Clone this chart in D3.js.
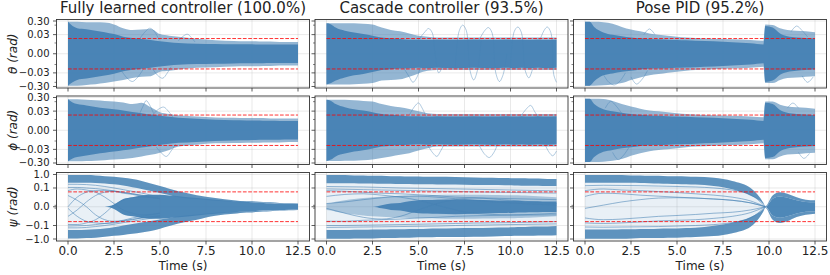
<!DOCTYPE html>
<html>
<head>
<meta charset="utf-8">
<script src="https://cdn.jsdelivr.net/npm/d3@7"></script>
<style>
  body { margin: 0; background: #fff; }
  text { font-family: "DejaVu Sans", sans-serif; fill: #222; }
</style>
</head>
<body>
<div class="chart"></div>
<script>
// time grid used by all envelope arrays (s)
const TIME = [0, 0.25, 0.5, 1, 1.5, 2, 2.5, 3, 3.5, 4, 4.5, 5, 5.5, 6, 7, 8, 9, 9.7, 9.8, 10.2, 10.6, 11, 11.5, 12, 12.5];

const titles = ["Fully learned controller (100.0%)", "Cascade controller (93.5%)", "Pose PID (95.2%)"];
const rowLabels = ["\u03b8 (rad)", "\u03d5 (rad)", "\u03c8 (rad)"];
const xTicks = [0, 2.5, 5, 7.5, 10, 12.5];
const angTicks = [-0.3, -0.03, 0, 0.03, 0.3];
const angTickLabels = ["\u22120.30", "\u22120.03", "0.00", "0.03", "0.30"];
const angMinor = [-0.15, -0.0065, 0.0065, 0.15];
const yawTicks = [-1, -0.1, 0, 0.1, 1];
const yawTickLabels = ["\u22121.0", "\u22120.1", "0.0", "0.1", "1.0"];
const yawMinor = [-0.0012, 0.0012];
const angLimit = 0.015;   // red dashed bounds, roll/pitch
const yawLimit = 0.05;    // red dashed bounds, yaw

// ---- theta, fully learned
const thLearnOutHi = [0.26,0.26,0.26,0.24,0.24,0.23,0.17,0.09,0.066,0.072,0.08,0.033,0.025,0.021,0.0146,0.011,0.0096,0.009,0.009,0.009,0.0085,0.0085,0.008,0.008,0.008];
const thLearnOutLo = [-0.26,-0.26,-0.26,-0.23,-0.205,-0.17,-0.13,-0.10,-0.072,-0.058,-0.053,-0.025,-0.021,-0.0165,-0.0122,-0.0108,-0.0096,-0.009,-0.009,-0.009,-0.0085,-0.0085,-0.008,-0.008,-0.008];
const thLearnCoreHi = [0.26,0.13,0.09,0.076,0.058,0.046,0.033,0.021,0.0165,0.014,0.0115,0.009,0.0075,0.0065,0.0057,0.0054,0.005,0.005,0.005,0.0048,0.0048,0.0047,0.0047,0.0047,0.0047];
const thLearnCoreLo = [-0.26,-0.15,-0.1,-0.08,-0.062,-0.048,-0.035,-0.023,-0.0175,-0.0146,-0.012,-0.0095,-0.0078,-0.0068,-0.006,-0.0056,-0.0052,-0.005,-0.005,-0.005,-0.0049,-0.0048,-0.0048,-0.0047,-0.0047];
const thLearnSwings = [
  [[3.9, 0.015], [4.2, 0.05], [4.45, 0.09], [4.7, 0.05], [4.95, 0.012]],
  [[2.9, -0.02], [3.2, -0.07], [3.5, -0.13], [3.8, -0.06], [4.1, -0.015]],
  [[4.6, -0.015], [4.9, -0.05], [5.15, -0.075], [5.4, -0.03], [5.6, -0.01]],
  [[6.0, 0.01], [6.3, 0.025], [6.5, 0.032], [6.7, 0.018], [6.9, 0.008]]
];
// ---- theta, cascade
const thCascOutHi = [0.205,0.205,0.205,0.205,0.205,0.19,0.17,0.10,0.066,0.053,0.037,0.025,0.021,0.0185,0.0185,0.0185,0.0185,0.0185,0.0185,0.0185,0.0185,0.0185,0.0185,0.0185,0.0185];
const thCascOutLo = [-0.215,-0.215,-0.215,-0.215,-0.205,-0.19,-0.17,-0.112,-0.10,-0.09,-0.058,-0.033,-0.021,-0.0185,-0.0185,-0.0185,-0.0185,-0.0185,-0.0185,-0.0185,-0.0185,-0.0185,-0.0185,-0.0185,-0.0185];
const thCascCoreHi = [0.205,0.17,0.10,0.058,0.044,0.033,0.025,0.0185,0.0155,0.014,0.0122,0.0122,0.0115,0.0122,0.0115,0.0122,0.0115,0.0122,0.0122,0.0115,0.0122,0.0115,0.0122,0.0115,0.0122];
const thCascCoreLo = [-0.215,-0.17,-0.112,-0.066,-0.046,-0.037,-0.026,-0.0185,-0.0155,-0.014,-0.013,-0.0122,-0.013,-0.0122,-0.013,-0.0122,-0.013,-0.0122,-0.0122,-0.013,-0.0122,-0.013,-0.0122,-0.013,-0.0122];
const thCascSwings = [
  [[4.2, -0.013], [4.5, -0.06], [4.7, -0.15], [4.9, -0.07], [5.1, -0.012]],
  [[5.0, 0.012], [5.3, 0.04], [5.55, 0.085], [5.75, 0.04], [5.9, 0.0], [6.1, -0.03], [6.3, -0.01]],
  [[7.0, -0.01], [7.2, 0.05], [7.4, 0.15], [7.6, 0.06], [7.8, -0.02], [8.0, -0.1], [8.2, -0.02], [8.4, 0.01]],
  [[8.3, 0.012], [8.6, 0.06], [8.8, 0.1], [9.0, 0.04], [9.2, -0.03], [9.4, -0.13], [9.6, -0.04], [9.8, 0.0]],
  [[10.0, -0.012], [10.2, 0.05], [10.4, 0.11], [10.6, 0.04], [10.8, -0.02], [11.0, -0.07], [11.2, -0.015]],
  [[11.6, 0.012], [11.85, 0.07], [12.0, 0.11], [12.2, 0.04], [12.35, -0.04], [12.5, -0.15]]
];
// ---- theta, pose PID
const thPidOutHi = [0.26,0.26,0.26,0.24,0.19,0.112,0.072,0.053,0.037,0.029,0.025,0.021,0.0185,0.0165,0.0146,0.013,0.0115,0.010,0.17,0.155,0.09,0.066,0.058,0.053,0.046];
const thPidOutLo = [-0.26,-0.26,-0.26,-0.24,-0.215,-0.17,-0.10,-0.066,-0.046,-0.037,-0.029,-0.025,-0.021,-0.0185,-0.0155,-0.014,-0.0122,-0.010,-0.17,-0.17,-0.10,-0.072,-0.066,-0.058,-0.053];
const thPidCoreHi = [0.26,0.26,0.112,0.044,0.029,0.023,0.0185,0.0155,0.014,0.013,0.0122,0.0115,0.0108,0.010,0.009,0.0075,0.0061,0.0047,0.132,0.10,0.037,0.023,0.0185,0.0165,0.0146];
const thPidCoreLo = [-0.26,-0.26,-0.125,-0.046,-0.033,-0.025,-0.021,-0.0165,-0.0146,-0.014,-0.013,-0.0122,-0.0115,-0.0108,-0.0096,-0.008,-0.0065,-0.005,-0.14,-0.112,-0.041,-0.026,-0.021,-0.0185,-0.0165];
const thPidSwings = [
  [[1.0, -0.04], [1.3, -0.15], [1.6, -0.23], [1.9, -0.12], [2.2, -0.03]],
  [[2.5, -0.06], [2.8, -0.2], [3.1, -0.09], [3.4, -0.02]],
  [[3.2, 0.03], [3.5, 0.08], [3.8, 0.03]],
  [[11.2, 0.05], [11.5, 0.13], [11.8, 0.06], [12.1, 0.02]],
  [[11.8, -0.05], [12.1, -0.15], [12.4, -0.06]]
];
// ---- phi, fully learned
const phLearnOutHi = [0.228,0.228,0.228,0.205,0.19,0.17,0.155,0.132,0.10,0.125,0.058,0.025,0.0185,0.0146,0.0115,0.0096,0.009,0.0085,0.0085,0.0085,0.0085,0.008,0.008,0.008,0.008];
const phLearnOutLo = [-0.228,-0.228,-0.228,-0.215,-0.205,-0.19,-0.17,-0.155,-0.132,-0.10,-0.076,-0.053,-0.033,-0.0185,-0.013,-0.0102,-0.0096,-0.009,-0.009,-0.009,-0.0085,-0.0085,-0.0085,-0.008,-0.008];
const phLearnCoreHi = [0.228,0.132,0.1,0.08,0.062,0.05,0.041,0.033,0.026,0.021,0.0165,0.0135,0.0108,0.009,0.0075,0.0062,0.0056,0.0054,0.0054,0.0052,0.005,0.005,0.0048,0.0048,0.0048];
const phLearnCoreLo = [-0.228,-0.14,-0.11,-0.085,-0.066,-0.053,-0.044,-0.035,-0.028,-0.022,-0.0175,-0.014,-0.0112,-0.0093,-0.0078,-0.0064,-0.0058,-0.0055,-0.0055,-0.0053,-0.0051,-0.005,-0.0049,-0.0048,-0.0048];
const phLearnSwings = [
  [[3.9, 0.02], [4.1, 0.08], [4.25, 0.18], [4.45, 0.08], [4.65, 0.02]],
  [[4.6, 0.015], [4.9, 0.04], [5.2, 0.06], [5.45, 0.03], [5.7, 0.01]],
  [[4.8, -0.02], [5.1, -0.06], [5.35, -0.1], [5.6, -0.04], [5.85, -0.012]]
];
// ---- phi, cascade
const phCascOutHi = [0.205,0.205,0.205,0.205,0.19,0.17,0.155,0.10,0.072,0.058,0.044,0.029,0.021,0.0185,0.0185,0.0185,0.0185,0.0185,0.0185,0.0185,0.0185,0.0185,0.0185,0.0185,0.0185];
const phCascOutLo = [-0.215,-0.215,-0.215,-0.205,-0.205,-0.19,-0.17,-0.13,-0.10,-0.076,-0.058,-0.037,-0.025,-0.0185,-0.0185,-0.0185,-0.0185,-0.0185,-0.0185,-0.0185,-0.0185,-0.0185,-0.0185,-0.0185,-0.0185];
const phCascCoreHi = [0.205,0.17,0.10,0.058,0.041,0.033,0.025,0.0185,0.0155,0.014,0.0122,0.0122,0.0115,0.0122,0.0115,0.0122,0.0115,0.0122,0.0122,0.0115,0.0122,0.0115,0.0122,0.0115,0.0122];
const phCascCoreLo = [-0.215,-0.17,-0.10,-0.062,-0.044,-0.035,-0.026,-0.0185,-0.0155,-0.014,-0.013,-0.0122,-0.013,-0.0122,-0.013,-0.0122,-0.013,-0.0122,-0.0122,-0.013,-0.0122,-0.013,-0.0122,-0.013,-0.0122];
const phCascSwings = [
  [[4.5, 0.015], [4.8, 0.07], [5.0, 0.12], [5.2, 0.05], [5.4, 0.012]],
  [[5.5, -0.015], [5.8, -0.06], [6.0, -0.1], [6.2, -0.04], [6.4, -0.012]],
  [[8.3, -0.015], [8.6, -0.07], [8.85, -0.12], [9.1, -0.05], [9.3, -0.012]],
  [[10.6, 0.015], [10.9, 0.05], [11.1, 0.08], [11.3, 0.03], [11.5, 0.01]],
  [[11.9, -0.015], [12.1, -0.05], [12.3, -0.09], [12.5, -0.04]]
];
// ---- phi, pose PID
const phPidOutHi = [0.24,0.24,0.24,0.23,0.17,0.10,0.066,0.046,0.033,0.029,0.025,0.021,0.0185,0.0165,0.0146,0.013,0.0115,0.010,0.155,0.155,0.09,0.066,0.058,0.053,0.046];
const phPidOutLo = [-0.25,-0.25,-0.25,-0.24,-0.205,-0.155,-0.09,-0.058,-0.041,-0.033,-0.029,-0.025,-0.021,-0.0185,-0.0155,-0.014,-0.0122,-0.010,-0.16,-0.16,-0.10,-0.072,-0.066,-0.058,-0.053];
const phPidCoreHi = [0.24,0.24,0.10,0.041,0.029,0.023,0.0185,0.0155,0.014,0.013,0.0122,0.0115,0.0108,0.010,0.009,0.0075,0.0061,0.0047,0.125,0.10,0.037,0.023,0.0185,0.0165,0.0146];
const phPidCoreLo = [-0.25,-0.25,-0.112,-0.046,-0.033,-0.025,-0.021,-0.0165,-0.0146,-0.014,-0.013,-0.0122,-0.0115,-0.0108,-0.0096,-0.008,-0.0065,-0.005,-0.13,-0.112,-0.041,-0.026,-0.021,-0.0185,-0.0165];
const phPidSwings = [
  [[1.1, 0.05], [1.4, 0.16], [1.7, 0.07], [2.0, 0.02]],
  [[1.5, -0.05], [1.8, -0.17], [2.1, -0.08], [2.4, -0.02]],
  [[11.0, 0.05], [11.3, 0.12], [11.6, 0.05]],
  [[11.6, -0.05], [11.9, -0.14], [12.2, -0.06]]
];

// ---- psi, fully learned
const psLearnFanHi = [0.9,0.9,0.9,0.9,0.85,0.76,0.68,0.58,0.47,0.34,0.216,0.139,0.088,0.056,0.027,0.0149,0.0088,0.0068,0.0068,0.0062,0.0056,0.0051,0.0041,0.0037,0.0032];
const psLearnTopIn = [0.25,0.25,0.25,0.25,0.24,0.22,0.19,0.155,0.115,0.085,0.058,0.04,0.028,0.018,0.012,0.008,0.006,0.005,0.005,0.0047,0.0043,0.0039,0.0034,0.003,0.0027];
const psLearnBotIn = [-0.22,-0.22,-0.22,-0.21,-0.19,-0.165,-0.135,-0.1,-0.077,-0.058,-0.044,-0.034,-0.025,-0.018,-0.012,-0.008,-0.006,-0.005,-0.005,-0.0047,-0.0043,-0.0039,-0.0034,-0.003,-0.0027];
const psLearnFanLo = [-0.9,-0.9,-0.9,-0.85,-0.8,-0.68,-0.58,-0.5,-0.42,-0.34,-0.26,-0.173,-0.11,-0.07,-0.035,-0.016,-0.0103,-0.0074,-0.0074,-0.0062,-0.0056,-0.0051,-0.0041,-0.0037,-0.0032];
const psLearnCoreHi = [0,0,0,0,0,0,0.002,0.012,0.018,0.025,0.029,0.029,0.025,0.022,0.0149,0.0103,0.0068,0.0056,0.0056,0.0046,0.0041,0.0037,0.0032,0.0028,0.0026];
const psLearnCoreLo = [0,0,0,0,0,0,-0.002,-0.012,-0.018,-0.025,-0.029,-0.029,-0.025,-0.022,-0.0149,-0.0103,-0.0068,-0.0056,-0.0056,-0.0046,-0.0041,-0.0037,-0.0032,-0.0028,-0.0026];
const psLearnLineT = [0, 0.5, 1, 1.5, 2, 2.5, 3, 3.5, 4, 5];
const psLearnLines = [
  [0.025, 0.0088, 0, -0.013, -0.035, -0.047, -0.039, -0.025, -0.018, -0.0088],
  [-0.018, -0.0032, 0.0056, 0.025, 0.047, 0.056, 0.047, 0.035, 0.025, 0.013],
  [0, 0.018, 0.047, 0.063, 0.063, 0.056, 0.039, 0.031, 0.022, 0.013],
  [-0.0014, -0.018, -0.047, -0.063, -0.07, -0.063, -0.047, -0.035, -0.025, -0.018],
  [0.063, 0.084, 0.07, 0.047, 0.018, 0.0032, -0.0032, -0.0088, -0.013, -0.0088],
  [-0.084, -0.084, -0.063, -0.035, -0.0088, 0.0014, 0.0088, 0.016, 0.018, 0.013],
  [0.19, 0.19, 0.18, 0.16, 0.13, 0.1, 0.075, 0.055, 0.04, 0.018],
  [0.11, 0.11, 0.1, 0.09, 0.075, 0.06, 0.045, 0.035, 0.027, 0.013],
  [-0.15, -0.15, -0.14, -0.12, -0.1, -0.08, -0.06, -0.047, -0.035, -0.02],
  [-0.11, -0.105, -0.1, -0.085, -0.07, -0.055, -0.042, -0.032, -0.025, -0.015]
];
// ---- psi, cascade
const psCascFanHi = [0.9,0.9,0.9,0.9,0.85,0.85,0.8,0.8,0.76,0.76,0.72,0.72,0.68,0.68,0.65,0.615,0.58,0.55,0.55,0.52,0.52,0.5,0.5,0.47,0.47];
const psCascTopIn = [0.23,0.23,0.23,0.23,0.23,0.22,0.22,0.21,0.21,0.2,0.2,0.19,0.19,0.185,0.18,0.17,0.165,0.16,0.16,0.155,0.15,0.15,0.145,0.14,0.14];
const psCascBotIn = [-0.22,-0.22,-0.22,-0.22,-0.21,-0.21,-0.2,-0.2,-0.19,-0.19,-0.18,-0.18,-0.173,-0.17,-0.16,-0.155,-0.147,-0.14,-0.14,-0.135,-0.13,-0.124,-0.12,-0.117,-0.11];
const psCascFanLo = [-0.95,-0.95,-0.95,-0.95,-0.9,-0.9,-0.9,-0.85,-0.85,-0.8,-0.8,-0.76,-0.76,-0.72,-0.72,-0.68,-0.65,-0.615,-0.615,-0.58,-0.58,-0.58,-0.55,-0.55,-0.52];
const psCascMidHi = [0.0032,0.004,0.006,0.009,0.012,0.015,0.018,0.02,0.022,0.024,0.025,0.026,0.027,0.028,0.029,0.029,0.028,0.027,0.027,0.026,0.025,0.024,0.022,0.02,0.018];
const psCascMidLo = [-0.0032,-0.004,-0.006,-0.009,-0.012,-0.015,-0.018,-0.02,-0.022,-0.024,-0.025,-0.026,-0.027,-0.028,-0.029,-0.029,-0.028,-0.027,-0.027,-0.026,-0.025,-0.024,-0.022,-0.02,-0.018];
const psCascCoreHi = [0,0,0,0,0,0,0,0.0014,0.0032,0.0041,0.0068,0.0088,0.0095,0.0103,0.011,0.0103,0.0088,0.0082,0.0082,0.0076,0.0074,0.0068,0.0066,0.0062,0.0062];
const psCascCoreLo = [0,0,0,0,0,0,0,-0.0014,-0.0032,-0.0041,-0.0068,-0.0088,-0.0095,-0.0103,-0.011,-0.0103,-0.0088,-0.0082,-0.0082,-0.0076,-0.0074,-0.0068,-0.0066,-0.0062,-0.0062];
const psCascLineT = [0, 1, 2, 3, 4, 5, 6, 7, 8, 10, 12.5];
const psCascLines = [
  [-0.0014, -0.0088, -0.022, -0.031, -0.018, -0.0032, 0.0032, 0.0103, 0.0149, 0.0088, 0.0032],
  [0.021, 0.031, 0.035, 0.027, 0.018, 0.0088, 0.0014, -0.0032, -0.0088, -0.013, -0.0088],
  [0.063, 0.056, 0.047, 0.039, 0.035, 0.029, 0.024, 0.018, 0.016, 0.013, 0.0103],
  [-0.047, -0.047, -0.039, -0.035, -0.031, -0.025, -0.022, -0.018, -0.016, -0.0139, -0.013],
  [0.0032, 0.0056, 0.0103, 0.016, 0.021, 0.022, 0.018, 0.013, 0.0088, 0.0041, 0.0014],
  [0.13, 0.125, 0.12, 0.11, 0.1, 0.095, 0.09, 0.085, 0.08, 0.07, 0.06],
  [0.085, 0.08, 0.075, 0.07, 0.066, 0.062, 0.058, 0.054, 0.05, 0.045, 0.04],
  [-0.1, -0.1, -0.095, -0.09, -0.085, -0.08, -0.075, -0.07, -0.065, -0.06, -0.05],
  [-0.14, -0.135, -0.13, -0.125, -0.12, -0.115, -0.11, -0.1, -0.095, -0.085, -0.075]
];
// ---- psi, pose PID
const psPidFanHi = [0.9,0.9,0.9,0.9,0.9,0.9,0.85,0.85,0.8,0.8,0.76,0.76,0.72,0.68,0.58,0.34,0.099,0.0041,0.0005,0.025,0.047,0.035,0.018,0.0103,0.0088];
const psPidTopIn = [0.25,0.25,0.25,0.25,0.25,0.25,0.245,0.24,0.23,0.22,0.21,0.2,0.19,0.18,0.14,0.08,0.024,0.0025,0.0003,0.013,0.021,0.016,0.0088,0.0056,0.0051];
const psPidBotIn = [-0.2,-0.2,-0.2,-0.2,-0.2,-0.19,-0.19,-0.18,-0.18,-0.173,-0.17,-0.165,-0.155,-0.147,-0.105,-0.06,-0.021,-0.002,-0.0003,-0.015,-0.024,-0.018,-0.0095,-0.006,-0.0055];
const psPidFanLo = [-0.95,-0.95,-0.95,-0.95,-0.95,-0.95,-0.9,-0.85,-0.85,-0.85,-0.8,-0.8,-0.76,-0.72,-0.615,-0.375,-0.124,-0.0051,-0.0008,-0.035,-0.063,-0.047,-0.021,-0.013,-0.0103];
const psPidCoreHi = [0,0,0,0,0,0,0,0,0,0,0,0,0,0,0,0,0,0,0,0.013,0.021,0.016,0.0088,0.0056,0.0051];
const psPidCoreLo = [0,0,0,0,0,0,0,0,0,0,0,0,0,0,0,0,0,0,0,-0.015,-0.024,-0.018,-0.0095,-0.006,-0.0055];
const psPidLineT = [0, 1, 2, 3, 4, 5, 6, 7, 8, 9, 9.8];
const psPidLines = [
  [0.021, 0.039, 0.035, 0.027, 0.022, 0.018, 0.0149, 0.012, 0.0088, 0.0041, 0],
  [-0.0014, 0.0014, 0.0056, 0.0103, 0.0149, 0.016, 0.0149, 0.012, 0.0088, 0.0041, 0],
  [0.063, 0.084, 0.07, 0.063, 0.053, 0.044, 0.035, 0.027, 0.018, 0.0074, 0],
  [-0.025, -0.035, -0.031, -0.024, -0.018, -0.015, -0.012, -0.0088, -0.0068, -0.0032, 0],
  [-0.063, -0.07, -0.063, -0.053, -0.044, -0.039, -0.035, -0.027, -0.018, -0.0074, 0],
  [0.15, 0.16, 0.155, 0.15, 0.14, 0.13, 0.12, 0.1, 0.07, 0.03, 0],
  [-0.13, -0.135, -0.13, -0.125, -0.12, -0.11, -0.1, -0.085, -0.06, -0.025, 0]
];

// ---- layout
const W = 830, H = 275;
const colX = [56.5, 315, 573.5], rowY = [19.5, 96, 172.5];
const pw = 253, ph = 68.5;
const blue = "steelblue";
const OUT = 0.58, CORE = 0.95, STRIP = 0.85, FAN = 0.12;

const panels = [
  {r: 0, c: 0, bands: [[thLearnOutLo, thLearnOutHi, OUT], [thLearnCoreLo, thLearnCoreHi, CORE]], swings: thLearnSwings},
  {r: 0, c: 1, bands: [[thCascOutLo, thCascOutHi, OUT], [thCascCoreLo, thCascCoreHi, CORE]], swings: thCascSwings},
  {r: 0, c: 2, bands: [[thPidOutLo, thPidOutHi, OUT], [thPidCoreLo, thPidCoreHi, CORE]], swings: thPidSwings},
  {r: 1, c: 0, bands: [[phLearnOutLo, phLearnOutHi, OUT], [phLearnCoreLo, phLearnCoreHi, CORE]], swings: phLearnSwings},
  {r: 1, c: 1, bands: [[phCascOutLo, phCascOutHi, OUT], [phCascCoreLo, phCascCoreHi, CORE]], swings: phCascSwings},
  {r: 1, c: 2, bands: [[phPidOutLo, phPidOutHi, OUT], [phPidCoreLo, phPidCoreHi, CORE]], swings: phPidSwings},
  {r: 2, c: 0, bands: [[psLearnFanLo, psLearnFanHi, FAN], [psLearnTopIn, psLearnFanHi, STRIP], [psLearnFanLo, psLearnBotIn, STRIP], [psLearnCoreLo, psLearnCoreHi, CORE]],
   lineT: psLearnLineT, lines: psLearnLines},
  {r: 2, c: 1, bands: [[psCascFanLo, psCascFanHi, FAN], [psCascTopIn, psCascFanHi, STRIP], [psCascFanLo, psCascBotIn, STRIP], [psCascMidLo, psCascMidHi, 0.4], [psCascCoreLo, psCascCoreHi, CORE]],
   lineT: psCascLineT, lines: psCascLines},
  {r: 2, c: 2, bands: [[psPidFanLo, psPidFanHi, FAN], [psPidTopIn, psPidFanHi, STRIP], [psPidFanLo, psPidBotIn, STRIP], [psPidCoreLo, psPidCoreHi, CORE]],
   lineT: psPidLineT, lines: psPidLines}
];

const svg = d3.select(".chart").append("svg")
    .attr("width", W)
    .attr("height", H);

function yScaleFor(r) {
    if (r < 2) {
        return d3.scaleSymlog().constant(0.0013).domain([-0.386, 0.386]).range([rowY[r] + ph, rowY[r]]);
    }
    return d3.scaleSymlog().constant(0.0045).domain([-1.4, 1.4]).range([rowY[r] + ph, rowY[r]]);
}

panels.forEach(function(p, k) {
    const x = d3.scaleLinear().domain([-0.625, 13.125]).range([colX[p.c], colX[p.c] + pw]);
    const y = yScaleFor(p.r);
    const ticks = p.r < 2 ? angTicks : yawTicks;
    const minor = p.r < 2 ? angMinor : yawMinor;
    const limit = p.r < 2 ? angLimit : yawLimit;
    const g = svg.append("g");

    // clip to the axes box
    g.append("clipPath").attr("id", "clip" + k)
        .append("rect")
        .attr("x", colX[p.c]).attr("y", rowY[p.r])
        .attr("width", pw).attr("height", ph);

    // grid
    g.selectAll(".gx").data(xTicks).enter().append("line")
        .attr("x1", d => x(d)).attr("x2", d => x(d))
        .attr("y1", rowY[p.r]).attr("y2", rowY[p.r] + ph)
        .attr("stroke", "#b0b0b0").attr("stroke-opacity", 0.35).attr("stroke-width", 0.8);
    g.selectAll(".gy").data(ticks).enter().append("line")
        .attr("x1", colX[p.c]).attr("x2", colX[p.c] + pw)
        .attr("y1", d => y(d)).attr("y2", d => y(d))
        .attr("stroke", "#b0b0b0").attr("stroke-opacity", 0.35).attr("stroke-width", 0.8);

    const plot = g.append("g").attr("clip-path", "url(#clip" + k + ")");

    // trajectory bands
    p.bands.forEach(function(b) {
        const area = d3.area()
            .x((d, i) => x(TIME[i]))
            .y0((d, i) => y(b[0][i]))
            .y1((d, i) => y(b[1][i]))
            .curve(d3.curveMonotoneX);
        plot.append("path")
            .attr("d", area(TIME))
            .attr("fill", blue)
            .attr("fill-opacity", b[2]);
    });

    // single excursions that leave the band
    if (p.swings) {
        const swing = d3.line()
            .x(d => x(d[0]))
            .y(d => y(d[1]))
            .curve(d3.curveCatmullRom);
        plot.selectAll(".swing").data(p.swings).enter().append("path")
            .attr("d", d => swing(d))
            .attr("fill", "none")
            .attr("stroke", blue)
            .attr("stroke-opacity", 0.6)
            .attr("stroke-width", 0.7);
    }

    // individual trajectories
    if (p.lines) {
        const line = d3.line()
            .x((d, i) => x(p.lineT[i]))
            .y(d => y(d))
            .curve(d3.curveMonotoneX);
        plot.selectAll(".traj").data(p.lines).enter().append("path")
            .attr("d", d => line(d))
            .attr("fill", "none")
            .attr("stroke", blue)
            .attr("stroke-opacity", 0.7)
            .attr("stroke-width", 0.8);
    }

    // red bounds
    g.selectAll(".lim").data([limit, -limit]).enter().append("line")
        .attr("x1", x(0)).attr("x2", x(12.5))
        .attr("y1", d => y(d)).attr("y2", d => y(d))
        .attr("stroke", "red").attr("stroke-opacity", 0.8)
        .attr("stroke-width", 1).attr("stroke-dasharray", "3.7,1.6");

    // frame
    g.append("rect")
        .attr("x", colX[p.c]).attr("y", rowY[p.r])
        .attr("width", pw).attr("height", ph)
        .attr("fill", "none").attr("stroke", "#333").attr("stroke-width", 0.9);

    // ticks
    g.selectAll(".tx").data(xTicks).enter().append("line")
        .attr("x1", d => x(d)).attr("x2", d => x(d))
        .attr("y1", rowY[p.r] + ph).attr("y2", rowY[p.r] + ph + 3.5)
        .attr("stroke", "#333").attr("stroke-width", 0.8);
    g.selectAll(".ty").data(ticks).enter().append("line")
        .attr("x1", colX[p.c] - 3.5).attr("x2", colX[p.c])
        .attr("y1", d => y(d)).attr("y2", d => y(d))
        .attr("stroke", "#333").attr("stroke-width", 0.8);
    g.selectAll(".tm").data(minor).enter().append("line")
        .attr("x1", colX[p.c] - 2).attr("x2", colX[p.c])
        .attr("y1", d => y(d)).attr("y2", d => y(d))
        .attr("stroke", "#333").attr("stroke-width", 0.6);

    if (p.c === 0) {
        const labels = p.r < 2 ? angTickLabels : yawTickLabels;
        g.selectAll(".ly").data(ticks).enter().append("text")
            .attr("x", colX[0] - 7)
            .attr("y", d => y(d))
            .attr("dy", "0.35em")
            .attr("text-anchor", "end")
            .attr("font-size", 10)
            .text((d, i) => labels[i]);
        g.append("text")
            .attr("transform", "translate(12.5," + (rowY[p.r] + ph / 2) + ") rotate(-90)")
            .attr("dy", "0.35em")
            .attr("text-anchor", "middle")
            .attr("font-size", 12)
            .attr("font-style", "italic")
            .text(rowLabels[p.r]);
    }
    if (p.r === 2) {
        g.selectAll(".lx").data(xTicks).enter().append("text")
            .attr("x", d => x(d))
            .attr("y", 255)
            .attr("text-anchor", "middle")
            .attr("font-size", 12)
            .text(d => d.toFixed(1));
        g.append("text")
            .attr("x", colX[p.c] + pw / 2)
            .attr("y", 270)
            .attr("text-anchor", "middle")
            .attr("font-size", 12)
            .text("Time (s)");
    }
    if (p.r === 0) {
        g.append("text")
            .attr("x", colX[p.c] + pw / 2)
            .attr("y", 13)
            .attr("text-anchor", "middle")
            .attr("font-size", 15)
            .text(titles[p.c]);
    }
});
</script>
</body>
</html>
